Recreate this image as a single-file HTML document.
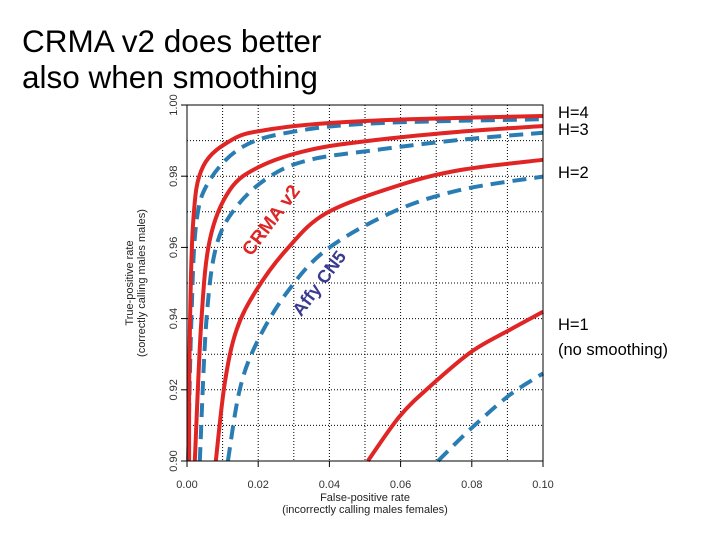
<!DOCTYPE html>
<html><head><meta charset="utf-8"><style>
body{margin:0;background:#fff;}
svg{display:block;font-family:"Liberation Sans",Arial,sans-serif;}
</style></head><body>
<svg id="chart" width="720" height="540">
<text x="22" y="52" font-size="31.5" fill="#000">CRMA v2 does better</text>
<text x="22" y="88" font-size="31.5" fill="#000">also when smoothing</text>
<g id="grid"></g>
<g id="axes"></g>
<g id="series"></g>
<rect x="187" y="105" width="356" height="356" fill="none" stroke="#000" stroke-width="1"/>
<text transform="translate(276,224) rotate(-53)" text-anchor="middle" font-size="19" font-weight="bold" fill="#e02525">CRMA v2</text>
<text transform="translate(324,287) rotate(-53)" text-anchor="middle" font-size="18" font-weight="bold" fill="#3a3a90">Affy CN5</text>
<text x="558" y="118" font-size="16.5">H=4</text>
<text x="558" y="135" font-size="16.5">H=3</text>
<text x="558" y="178" font-size="16.5">H=2</text>
<text x="558" y="330" font-size="16.5">H=1</text>
<text x="558" y="355" font-size="16.5">(no smoothing)</text>
<text x="365" y="501" text-anchor="middle" font-size="11" fill="#222">False-positive rate</text>
<text x="365" y="513" text-anchor="middle" font-size="11" fill="#222">(incorrectly calling males females)</text>
<text transform="translate(133,283) rotate(-90)" text-anchor="middle" font-size="11" fill="#222">True-positive rate</text>
<text transform="translate(145,283) rotate(-90)" text-anchor="middle" font-size="11" fill="#222">(correctly calling males males)</text>
</svg>
<script>
const xTicks=[0,0.02,0.04,0.06,0.08,0.10];
const xTickLabels=["0.00","0.02","0.04","0.06","0.08","0.10"];
const yTicks=[0.90,0.92,0.94,0.96,0.98,1.00];
const yTickLabels=["0.90","0.92","0.94","0.96","0.98","1.00"];
const gridVals=[0.01,0.02,0.03,0.04,0.05,0.06,0.07,0.08,0.09];
const h1RedX=[0.0508,0.0597,0.0682,0.0799,0.0906,0.1];
const h1RedY=[0.90,0.9125,0.9209,0.9307,0.9368,0.9419];
const h1BlueX=[0.0705,0.0799,0.0906,0.1];
const h1BlueY=[0.90,0.9092,0.9185,0.9246];
const h2RedX=[0.0081,0.0106,0.0139,0.0195,0.0279,0.0391,0.0597,0.0766,0.1];
const h2RedY=[0.90,0.9218,0.9368,0.948,0.9593,0.9696,0.9775,0.9817,0.9846];
const h2BlueX=[0.0115,0.0148,0.0195,0.0279,0.0391,0.0579,0.0766,0.1];
const h2BlueY=[0.90,0.92,0.933,0.9471,0.9593,0.97,0.9761,0.9799];
const h3RedX=[0.0022,0.004,0.0064,0.012,0.0204,0.0345,0.0532,0.0766,0.1];
const h3RedY=[0.90,0.9387,0.9621,0.9761,0.9827,0.9874,0.9902,0.9925,0.9941];
const h3BlueX=[0.0036,0.0054,0.0082,0.0139,0.0232,0.0345,0.0532,0.0766,0.1];
const h3BlueY=[0.90,0.9387,0.9602,0.9714,0.9799,0.9846,0.9874,0.9902,0.9922];
const h4RedX=[0.0006,0.0007,0.0017,0.0045,0.0129,0.0223,0.0391,0.0625,0.1];
const h4RedY=[0.90,0.9293,0.9668,0.9827,0.9904,0.993,0.9949,0.996,0.9969];
const h4BlueX=[0.0003,0.0012,0.0026,0.0064,0.0157,0.0298,0.0532,0.1];
const h4BlueY=[0.90,0.9387,0.9668,0.9789,0.9883,0.9925,0.9949,0.996];

const NS="http://www.w3.org/2000/svg";
const X0=187,X1=543,Y0=461,Y1=105;
function sx(v){return X0+(v-0)/(0.1)*(X1-X0);}
function sy(v){return Y0-(v-0.9)/(0.1)*(Y0-Y1);}
function mk(tag,attrs,parent){const e=document.createElementNS(NS,tag);for(const k in attrs)e.setAttribute(k,attrs[k]);parent.appendChild(e);return e;}
const grid=document.getElementById('grid'),axes=document.getElementById('axes'),series=document.getElementById('series');
gridVals.forEach(v=>{
  const gx=mk('line',{x1:sx(v),x2:sx(v),y1:Y1,y2:Y0,stroke:'#000','stroke-width':1,'stroke-dasharray':'1,2'},grid);
  
  
  const gy=mk('line',{x1:X0,x2:X1,y1:sy(0.9+v),y2:sy(0.9+v),stroke:'#000','stroke-width':1,'stroke-dasharray':'1,2'},grid);
  
  
});
xTicks.forEach((v,i)=>{
  const t=mk('line',{x1:sx(v),x2:sx(v),y1:Y0,y2:Y0+6,stroke:'#000'},axes);
  
  
  const l=mk('text',{x:sx(v),y:Y0+27,'text-anchor':'middle','font-size':11,fill:'#333'},axes);
  l.textContent=xTickLabels[i];
  
  
});
yTicks.forEach((v,i)=>{
  const t=mk('line',{x1:X0-6,x2:X0,y1:sy(v),y2:sy(v),stroke:'#000'},axes);
  
  
  const l=mk('text',{transform:`translate(${X0-10},${sy(v)}) rotate(-90)`,'text-anchor':'middle','font-size':11,fill:'#333'},axes);
  l.textContent=yTickLabels[i];
  
  
});
function curve(xs,ys,blue,name){
  const p=xs.map((x,i)=>[sx(x),sy(ys[i])]);
  let d='M'+p[0][0].toFixed(1)+','+p[0][1].toFixed(1);
  for(let i=0;i<p.length-1;i++){
    const a=p[Math.max(i-1,0)],b=p[i],c=p[i+1],e=p[Math.min(i+2,p.length-1)];
    const c1=[b[0]+(c[0]-a[0])/6,b[1]+(c[1]-a[1])/6],c2=[c[0]-(e[0]-b[0])/6,c[1]-(e[1]-b[1])/6];
    d+='C'+c1.map(v=>v.toFixed(1)).join(',')+' '+c2.map(v=>v.toFixed(1)).join(',')+' '+c[0].toFixed(1)+','+c[1].toFixed(1);
  }
  const el=mk('path',{d:d,fill:'none',stroke:blue?'#2a7db3':'#e02525','stroke-width':4,'stroke-linejoin':'round','stroke-dasharray':blue?'14,8':'none'},series);
  
  
}
curve(h1BlueX,h1BlueY,true,'affy-h1-curve');
curve(h1RedX,h1RedY,false,'crma-h1-curve');
curve(h2BlueX,h2BlueY,true,'affy-h2-curve');
curve(h2RedX,h2RedY,false,'crma-h2-curve');
curve(h3BlueX,h3BlueY,true,'affy-h3-curve');
curve(h3RedX,h3RedY,false,'crma-h3-curve');
curve(h4BlueX,h4BlueY,true,'affy-h4-curve');
curve(h4RedX,h4RedY,false,'crma-h4-curve');
</script>
</body></html>
